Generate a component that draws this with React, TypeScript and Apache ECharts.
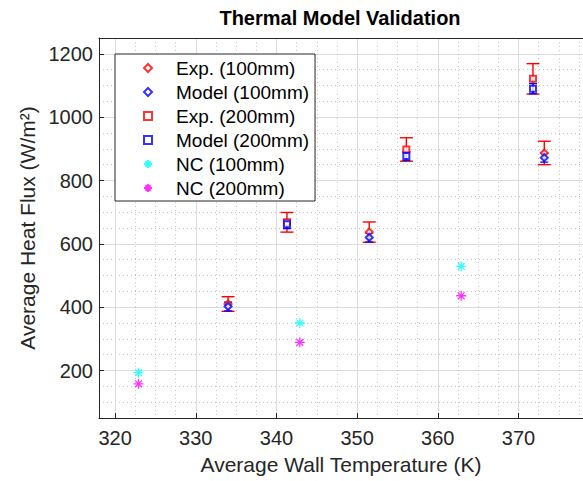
import React, { useEffect, useRef } from "react";
import * as echarts from "echarts";

// ---- data ----
const temps100 = [334.0, 351.5, 373.2];
const exp100 = [410, 637, 887];
const expErr100 = [23, 32, 37];
const model100 = [402, 620, 872];
const modelErr100 = [14, 14, 14];

const temps200 = [341.3, 356.1, 371.8];
const exp200 = [668, 898, 1121];
const expErr200 = [31, 37, 48];
const model200 = [662, 877, 1090];
const modelErr200 = [14, 14, 16];

const ncTemps = [322.9, 342.9, 362.9];
const nc100 = [193, 350, 529];
const nc200 = [158, 289, 436];

const xMajorTicks = [320, 330, 340, 350, 360, 370];
const yMajorTicks = [200, 400, 600, 800, 1000, 1200];

const FONT = "Liberation Sans";
const AX = "#262626";
const RED = "#ff0000";
const BLUE = "#0000ff";
const CYAN = "#00ffff";
const MAGENTA = "#ff00ff";
const ASTERISK = "path://M5 0L5 10M0 5L10 5M1.6 1.6L8.4 8.4M1.6 8.4L8.4 1.6";

function errData(xs: number[], ys: number[], es: number[]) {
  return xs.map((x, i) => [x, ys[i] - es[i], ys[i] + es[i]]);
}

function errSeries(name: string, data: number[][], color: string, half: number, width: number) {
  return {
    type: "custom",
    name,
    data,
    encode: { x: 0, y: [1, 2] },
    z: 3,
    renderItem: (_p: any, api: any) => {
      const x = api.value(0);
      const top = api.coord([x, api.value(2)]);
      const bot = api.coord([x, api.value(1)]);
      const style = { stroke: color, lineWidth: width };
      return {
        type: "group",
        children: [
          { type: "line", shape: { x1: top[0], y1: top[1], x2: bot[0], y2: bot[1] }, style },
          { type: "line", shape: { x1: top[0] - half, y1: top[1], x2: top[0] + half, y2: top[1] }, style },
          { type: "line", shape: { x1: bot[0] - half, y1: bot[1], x2: bot[0] + half, y2: bot[1] }, style },
        ],
      };
    },
  };
}

const pairs = (xs: number[], ys: number[]) => xs.map((x, i) => [x, ys[i]]);

export default function App() {
  const ref = useRef<HTMLDivElement>(null);
  useEffect(() => {
    document.body.style.margin = "0";
    const chart = echarts.init(ref.current!, undefined, { renderer: "svg" });
    const minorX = ["rgba(0,0,0,0)", "rgba(0,0,0,0)", "rgba(0,0,0,0)", "rgba(0,0,0,0)", "#c4c4c4"];
    chart.setOption({
      animation: false,
      backgroundColor: "#ffffff",
      textStyle: { fontFamily: FONT },
      graphic: [
        {
          type: "text",
          x: 340,
          y: 18,
          style: {
            text: "Thermal Model Validation",
            textAlign: "center",
            textVerticalAlign: "middle",
            fontFamily: FONT,
            fontWeight: "bold",
            fontSize: 20,
            fill: "#000",
          },
        },
      ],
      grid: {
        left: 99,
        right: -4,
        top: 38,
        bottom: 63,
        show: false,
      },
      legend: {
        orient: "vertical",
        left: 115,
        top: 54,
        backgroundColor: "#fff",
        borderColor: AX,
        borderWidth: 1,
        padding: [4, 6, 3, 28],
        itemWidth: 8,
        itemHeight: 8,
        itemGap: 4,
        textStyle: { fontSize: 19, fontFamily: FONT, color: "#000", lineHeight: 20, padding: [0, 0, 0, 19] },
        data: ["Exp. (100mm)", "Model (100mm)", "Exp. (200mm)", "Model (200mm)", "NC (100mm)", "NC (200mm)"],
      },
      xAxis: [
        {
          type: "value",
          min: 318,
          max: 378,
          interval: 0.5,
          axisLine: { show: true, lineStyle: { color: AX, width: 1 } },
          axisTick: { show: false },
          axisLabel: { show: false },
          splitLine: { show: true, lineStyle: { type: [1, 3], color: minorX, width: 1 } },
        },
        {
          type: "value",
          min: 318,
          max: 378,
          position: "bottom",
          axisLine: { show: false },
          axisTick: { show: true, inside: true, length: 5, customValues: xMajorTicks, lineStyle: { color: AX } },
          axisLabel: { customValues: xMajorTicks, fontSize: 20, color: AX, margin: 10, fontFamily: FONT },
          splitLine: { show: true, lineStyle: { color: "#dcdcdc", width: 1 } },
          name: "Average Wall Temperature (K)",
          nameLocation: "middle",
          nameGap: 36,
          nameTextStyle: { fontSize: 21, color: AX, fontFamily: FONT },
        },
        {
          type: "value",
          min: 318,
          max: 378,
          position: "top",
          axisLine: { show: true, lineStyle: { color: AX, width: 1 } },
          axisTick: { show: false },
          axisLabel: { show: false },
          splitLine: { show: false },
        },
      ],
      yAxis: [
        {
          type: "value",
          min: 50,
          max: 1250,
          interval: 50,
          axisLine: { show: true, lineStyle: { color: AX, width: 1 } },
          axisTick: { show: false },
          axisLabel: { show: false },
          splitLine: { show: true, lineStyle: { type: [1, 3], color: "#c4c4c4", width: 1 } },
        },
        {
          type: "value",
          min: 50,
          max: 1250,
          position: "left",
          axisLine: { show: false },
          axisTick: { show: true, inside: true, length: 5, customValues: yMajorTicks, lineStyle: { color: AX } },
          axisLabel: {
            customValues: yMajorTicks,
            fontSize: 20,
            color: AX,
            margin: 6,
            fontFamily: FONT,
            formatter: (v: number) => String(v),
          },
          splitLine: { show: true, lineStyle: { color: "#dcdcdc", width: 1 } },
          name: "Average Heat Flux (W/m²)",
          nameLocation: "middle",
          nameGap: 56,
          nameTextStyle: { fontSize: 21, color: AX, fontFamily: FONT },
        },
      ],
      series: [
        errSeries("Exp100 err", errData(temps100, exp100, expErr100), RED, 6.5, 1.4),
        errSeries("Exp200 err", errData(temps200, exp200, expErr200), RED, 6.5, 1.4),
        {
          type: "scatter",
          name: "Exp. (100mm)",
          data: pairs(temps100, exp100),
          symbol: "diamond",
          symbolSize: 7,
          z: 4,
          itemStyle: { color: "#fff", borderColor: RED, borderWidth: 2 },
        },
        {
          type: "scatter",
          name: "Exp. (200mm)",
          data: pairs(temps200, exp200),
          symbol: "rect",
          symbolSize: 6,
          z: 4,
          itemStyle: { color: "#fff", borderColor: RED, borderWidth: 2 },
        },
        errSeries("Model100 err", errData(temps100, model100, modelErr100), BLUE, 4, 1.3),
        errSeries("Model200 err", errData(temps200, model200, modelErr200), BLUE, 4, 1.3),
        {
          type: "scatter",
          name: "Model (100mm)",
          data: pairs(temps100, model100),
          symbol: "diamond",
          symbolSize: 7,
          z: 6,
          itemStyle: { color: "#fff", borderColor: BLUE, borderWidth: 2 },
        },
        {
          type: "scatter",
          name: "Model (200mm)",
          data: pairs(temps200, model200),
          symbol: "rect",
          symbolSize: 6,
          z: 6,
          itemStyle: { color: "#fff", borderColor: BLUE, borderWidth: 2 },
        },
        {
          type: "scatter",
          name: "NC (100mm)",
          data: pairs(ncTemps, nc100),
          symbol: ASTERISK,
          symbolSize: 10,
          z: 5,
          itemStyle: { color: "rgba(0,0,0,0)", borderColor: CYAN, borderWidth: 1.3 },
        },
        {
          type: "scatter",
          name: "NC (200mm)",
          data: pairs(ncTemps, nc200),
          symbol: ASTERISK,
          symbolSize: 10,
          z: 5,
          itemStyle: { color: "rgba(0,0,0,0)", borderColor: MAGENTA, borderWidth: 1.3 },
        },
      ],
    });
    return () => chart.dispose();
  }, []);
  return <div ref={ref} style={{ width: 583, height: 481, position: "absolute", left: 0, top: 0 }} />;
}
